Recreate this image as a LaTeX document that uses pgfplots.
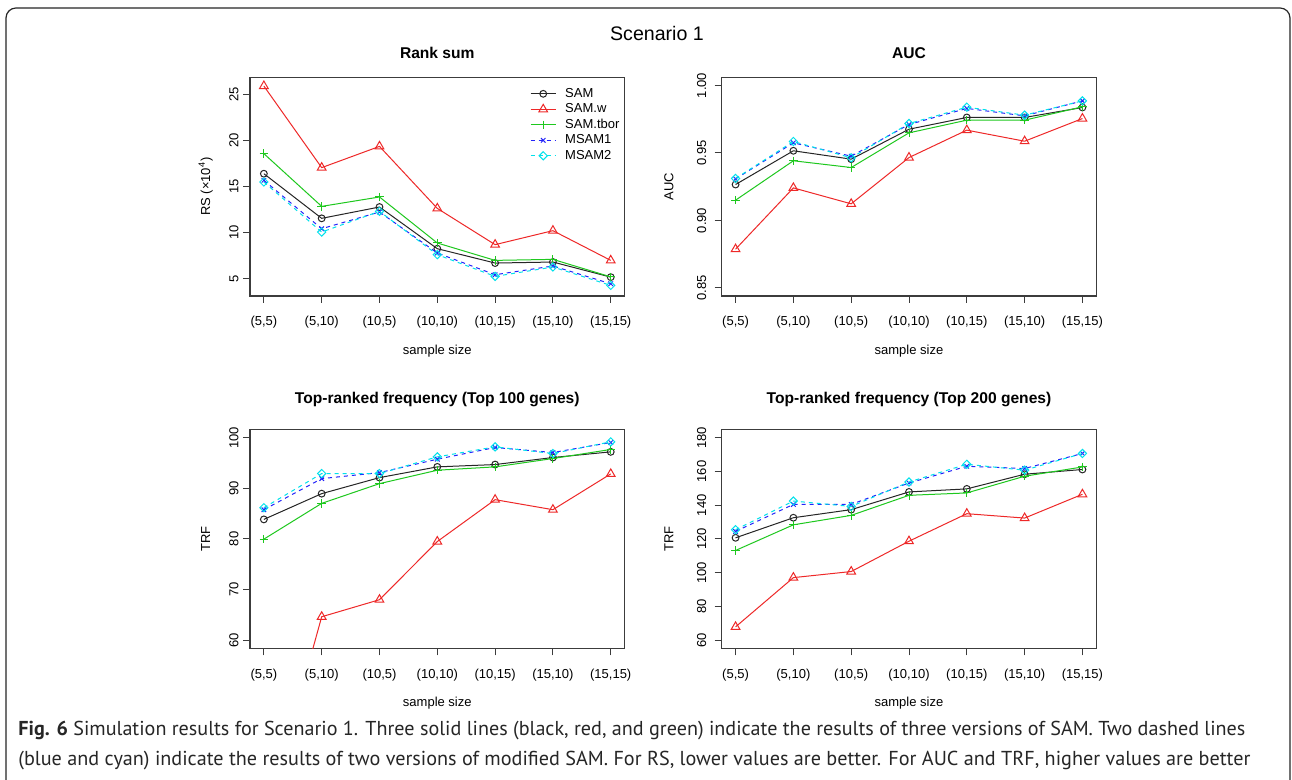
\documentclass[border=0pt]{standalone}
\usepackage{fontspec}
\setmainfont{Liberation Sans}
\newfontfamily\capfont{PT Sans}
\usepackage{pgfplots}
\usepackage{pgfplotstable}
\pgfplotsset{compat=1.18}

\definecolor{Rred}{RGB}{238,40,40}
\definecolor{Rgreen}{RGB}{30,200,30}
\definecolor{Rblue}{RGB}{35,35,250}
\definecolor{Rcyan}{RGB}{0,225,235}
\definecolor{axgray}{RGB}{60,60,60}

\pgfplotstableread{
x sam samw tbor ma mb
0 16.41 25.94 18.59 15.69 15.51
1 11.56 17.07 12.86 10.43 10.07
2 12.79 19.38 13.88 12.25 12.32
3 8.26 12.64 8.88 7.79 7.61
4 6.70 8.70 6.99 5.43 5.25
5 6.81 10.22 7.10 6.38 6.27
6 5.17 6.99 5.20 4.45 4.27
}\rstab
\pgfplotstableread{
x sam samw tbor ma mb
0 0.9266 0.8787 0.9150 0.9308 0.9311
1 0.9516 0.9241 0.9442 0.9575 0.9585
2 0.9454 0.9123 0.9392 0.9476 0.9464
3 0.9676 0.9466 0.9649 0.9711 0.9718
4 0.9763 0.9669 0.9743 0.9830 0.9839
5 0.9763 0.9587 0.9743 0.9775 0.9780
6 0.9837 0.9755 0.9842 0.9886 0.9886
}\auctab
\pgfplotstableread{
x sam samw tbor ma mb
0 83.87 23.3 79.97 85.79 86.18
1 88.96 64.63 87.04 91.93 92.93
2 92.13 68.0 90.94 93.12 92.93
3 94.25 79.5 93.59 95.77 96.23
4 94.71 87.77 94.25 98.08 98.21
5 96.10 85.79 95.90 97.09 96.89
6 97.22 92.86 97.69 99.07 99.20
}\tophtab
\pgfplotstableread{
x sam samw tbor ma mb
0 120.7 67.9 113.2 124.5 125.5
1 132.6 97.1 128.4 140.5 142.5
2 137.4 100.7 134.0 140.5 139.3
3 147.9 118.7 145.9 153.2 153.8
4 149.7 135.0 147.3 163.1 164.3
5 158.4 132.4 157.2 161.8 160.8
6 161.2 146.5 162.7 170.7 170.7
}\toptab

\pgfplotsset{
  rpanel/.style={
    scale only axis, width=187.3pt, height=109.3pt,
    xmin=-0.24, xmax=6.24,
    xtick={0,...,6},
    xticklabels={{(5,5)},{(5,10)},{(10,5)},{(10,10)},{(10,15)},{(15,10)},{(15,15)}},
    tick align=outside, tick pos=left,
    major tick length=3.5pt,
    axis line style={draw=axgray, line width=0.6pt},
    every tick/.style={draw=axgray, line width=0.5pt},
    tick label style={font=\fontsize{6.5}{7}\selectfont, inner sep=0pt},
    every axis title/.style={font=\fontsize{7.8}{9}\selectfont\bfseries, inner sep=0pt,
      at={(axis description cs:0.5,1)}, anchor=base, yshift=13pt},
    /pgf/number format/assume math mode=true,
    xticklabel style={anchor=base, yshift=-11.5pt},
    every axis x label/.style={at={(axis description cs:0.5,0)}, anchor=base, yshift=-29.2pt,
      font=\fontsize{6.5}{7}\selectfont, inner sep=0pt},
    xlabel={sample size},
    clip marker paths=true,
    legend cell align=left,
    legend image code/.code={\draw[mark repeat=2,mark phase=2,##1] plot coordinates {(0pt,0pt)(6.25pt,0pt)(12.5pt,0pt)};},
  },
  toprow/.style={title style={yshift=-3.5pt}},
  leftp/.style={
    yticklabel style={rotate=90, anchor=base, yshift=2.35pt},
    every axis y label/.style={at={(axis description cs:0,0.5)}, rotate=90, anchor=base, yshift=20pt,
      font=\fontsize{6.5}{7}\selectfont, inner sep=0pt},
  },
  rightp/.style={
    yticklabel style={rotate=90, anchor=base, yshift=4.25pt},
    every axis y label/.style={at={(axis description cs:0,0.5)}, rotate=90, anchor=base, yshift=24.2pt,
      font=\fontsize{6.5}{7}\selectfont, inner sep=0pt},
  },
  sam/.style={black!85, line width=0.5pt, mark=o, mark size=1.7pt, mark options={solid}},
  samw/.style={Rred, line width=0.5pt, mark=triangle, mark size=2.5pt, mark options={solid}},
  tbor/.style={Rgreen, line width=0.5pt, mark=+, mark size=2.1pt, mark options={solid}},
  msa/.style={Rblue, line width=0.5pt, dash pattern=on 2pt off 2pt, mark=x, mark size=1.6pt, mark options={solid}},
  msb/.style={Rcyan, line width=0.5pt, dash pattern=on 2pt off 2pt, mark=square, mark size=1.45pt, mark options={solid, rotate=45}},
}

\newcommand{\fiveplots}[1]{%
  \addplot[sam] table[x=x,y=sam]{#1};
  \addplot[samw] table[x=x,y=samw]{#1};
  \addplot[tbor] table[x=x,y=tbor]{#1};
  \addplot[msa] table[x=x,y=ma]{#1};
  \addplot[msb] table[x=x,y=mb]{#1};
}

\begin{document}
\begin{tikzpicture}
\path[use as bounding box] (0pt,0pt) rectangle (646pt,390pt);
\fill[white] (0pt,0pt) rectangle (646pt,390pt);
% frame
\draw[black!85, line width=0.6pt, rounded corners=5pt] (3pt,-5pt) -- (3pt,386pt) -- (645pt,386pt) -- (645pt,-5pt);

\node[font=\fontsize{9.8}{11}\selectfont, anchor=base, inner sep=0pt] at (328.5pt,369.6pt) {Scenario 1};

% Panel 1
\begin{axis}[rpanel, leftp, toprow, at={(125pt,242pt)}, anchor=south west,
  ymin=3.12, ymax=26.88, ytick={5,10,15,20,25},
  title={Rank sum}, ylabel={RS (×10\textsuperscript{4})},
  legend style={at={(axis description cs:0.747,0.961)}, anchor=north west, draw=none, fill=none,
    inner sep=0pt, font=\fontsize{6.5}{7}\selectfont, row sep=0.25pt, column sep=4pt,
    nodes={inner sep=0.5pt, text height=5pt, text depth=1.5pt}},
]
\fiveplots{\rstab}
\legend{SAM,SAM.w,SAM.tbor,MSAM1,MSAM2}
\end{axis}

% Panel 2
\begin{axis}[rpanel, rightp, toprow, at={(360.85pt,242pt)}, anchor=south west,
  ymin=0.844, ymax=1.006, ytick={0.85,0.90,0.95,1.00},
  yticklabel={\pgfmathprintnumber[fixed,fixed zerofill,precision=2]{\tick}},
  title={AUC}, ylabel={AUC},
]
\fiveplots{\auctab}
\end{axis}

% Panel 3
\begin{axis}[rpanel, leftp, at={(125pt,65.85pt)}, anchor=south west,
  ymin=58.4, ymax=101.6, ytick={60,70,80,90,100},
  title={Top-ranked frequency (Top 100 genes)}, ylabel={TRF},
]
\fiveplots{\tophtab}
\end{axis}

% Panel 4
\begin{axis}[rpanel, rightp, at={(360.85pt,65.85pt)}, anchor=south west,
  ymin=55.2, ymax=184.8, ytick={60,80,100,120,140,160,180},
  title={Top-ranked frequency (Top 200 genes)}, ylabel={TRF},
]
\fiveplots{\toptab}
\end{axis}

% caption
\node[anchor=base west, inner sep=0pt, text=black!85] at (9pt,22pt)
  {\resizebox{613.5pt}{!}{\capfont\textbf{Fig. 6} Simulation results for Scenario 1. Three solid lines (black, red, and green) indicate the results of three versions of SAM. Two dashed lines}};
\node[anchor=base west, inner sep=0pt, text=black!85] at (9pt,7pt)
  {\resizebox{616pt}{!}{\capfont (blue and cyan) indicate the results of two versions of modified SAM. For RS, lower values are better. For AUC and TRF, higher values are better}};
\end{tikzpicture}
\end{document}
